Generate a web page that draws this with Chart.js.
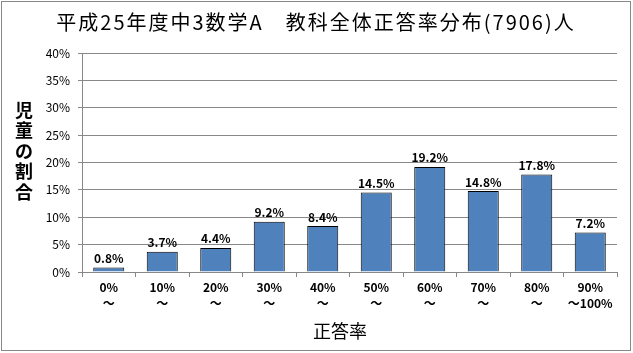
<!DOCTYPE html>
<html>
<head>
<meta charset="utf-8">
<script src="https://cdn.jsdelivr.net/npm/chart.js@4"></script>
<style>
  body { margin: 0; background: #fff; }
  #wrap { width: 633px; height: 353px; }
</style>
</head>
<body>
<div id="wrap"><canvas id="barChart" width="633" height="353"></canvas></div>
<script>
const titleText = '平成25年度中3数学A　教科全体正答率分布(7906)人';
const categories = [['0%', '～'], ['10%', '～'], ['20%', '～'], ['30%', '～'], ['40%', '～'],
  ['50%', '～'], ['60%', '～'], ['70%', '～'], ['80%', '～'], ['90%', '～100%']];
const shares = [0.8, 3.7, 4.4, 9.2, 8.4, 14.5, 19.2, 14.8, 17.8, 7.2];
const yTitle = ['児', '童', 'の', '割', '合'];
const xTitle = '正答率';
const fontName = "'Noto Sans CJK JP', sans-serif";

const decorations = {
  id: 'decorations',
  afterDraw: (chart) => {
    const { ctx } = chart;
    ctx.save();
    // outer frame
    ctx.strokeStyle = '#888';
    ctx.lineWidth = 1;
    ctx.strokeRect(1.5, 1.5, 629, 349);
    // title
    ctx.fillStyle = '#000';
    ctx.textAlign = 'center';
    ctx.textBaseline = 'middle';
    ctx.font = '20px ' + fontName;
    ctx.letterSpacing = '2px';
    ctx.fillText(titleText, 316, 22);
    ctx.letterSpacing = '0px';
    // y title, stacked characters
    ctx.font = 'bold 18px ' + fontName;
    yTitle.forEach((ch, i) => ctx.fillText(ch, 24, 110 + i * 20.5));
    // x title
    ctx.font = '18px ' + fontName;
    ctx.fillText(xTitle, 340, 331);
    // value labels
    const meta = chart.getDatasetMeta(0);
    ctx.font = 'bold 12px ' + fontName;
    ctx.textBaseline = 'bottom';
    meta.data.forEach((bar, i) => {
      ctx.fillText(shares[i].toFixed(1) + '%', bar.x, bar.y - 3);
    });
    ctx.restore();
  }
};

new Chart(document.getElementById('barChart'), {
  type: 'bar',
  data: {
    labels: categories,
    datasets: [{
      data: shares,
      backgroundColor: '#4F81BD',
      borderColor: '#000',
      borderWidth: 1,
      barPercentage: 0.58,
      categoryPercentage: 1.0,
    }]
  },
  options: {
    responsive: false,
    animation: false,
    devicePixelRatio: 1,
    layout: { padding: { top: 53, right: 16, left: 0, bottom: 0 } },
    plugins: {
      legend: { display: false },
      title: { display: false },
      tooltip: { enabled: false }
    },
    scales: {
      y: {
        min: 0,
        max: 40,
        afterFit: (scale) => { scale.width = 82; },
        ticks: {
          stepSize: 5,
          color: '#000',
          padding: 8,
          font: { family: fontName, size: 12 },
          callback: (v) => v + '%'
        },
        grid: { color: '#888', tickLength: 4, lineWidth: 1 },
        border: { color: '#888', width: 1 }
      },
      x: {
        afterFit: (scale) => { scale.height = 81; },
        ticks: {
          color: '#000',
          padding: 2,
          font: { family: fontName, size: 12, weight: 'bold', lineHeight: 1.35 },
          maxRotation: 0
        },
        grid: { offset: true, drawOnChartArea: false, color: '#888', tickLength: 5 },
        border: { color: '#888', width: 1 }
      }
    }
  },
  plugins: [decorations]
});
</script>
</body>
</html>
